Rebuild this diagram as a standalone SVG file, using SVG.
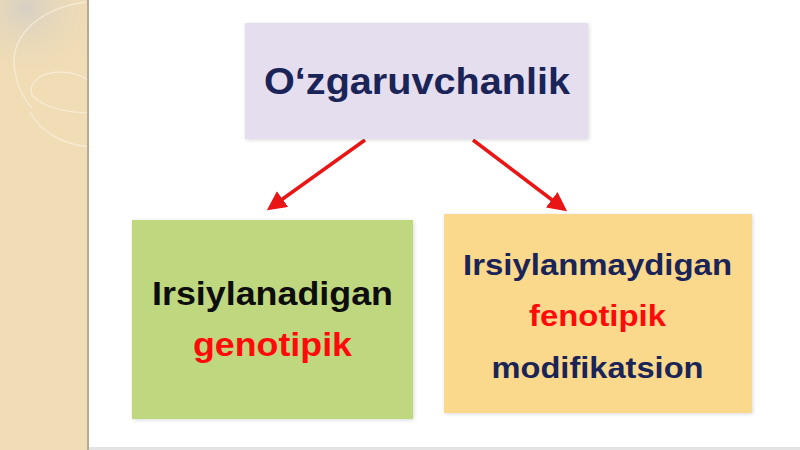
<svg xmlns="http://www.w3.org/2000/svg" width="800" height="450" viewBox="0 0 800 450">
  <defs>
    <style>
      .t { font-family: "Liberation Sans", Arial, sans-serif; font-weight: bold; text-anchor: middle; }
      .navy { fill: #1b2457; }
      .red { fill: #ff0a0a; }
      .blk { fill: #0d0d0d; }
      .conn { stroke: #ea1515; stroke-width: 3.5; fill: none; marker-end: url(#ah); }
      .deco { fill: none; stroke: #fbf3e2; stroke-width: 1.5; opacity: 0.6; }
    </style>
    <marker id="ah" viewBox="0 0 10 10" refX="8" refY="5" markerWidth="5.5" markerHeight="5.5" orient="auto" markerUnits="strokeWidth">
      <path d="M0,0 L10,5 L0,10 Z" fill="#ea1515"/>
    </marker>
    <radialGradient id="tl" cx="0.3" cy="0.1" r="0.9">
      <stop offset="0" stop-color="#d6d0c4"/>
      <stop offset="1" stop-color="#f0dcb6" stop-opacity="0"/>
    </radialGradient>
    <filter id="sh" x="-5%" y="-5%" width="110%" height="110%">
      <feGaussianBlur in="SourceAlpha" stdDeviation="2"/>
      <feOffset dx="1" dy="1"/>
      <feComponentTransfer><feFuncA type="linear" slope="0.15"/></feComponentTransfer>
      <feMerge><feMergeNode/><feMergeNode in="SourceGraphic"/></feMerge>
    </filter>
  </defs>

  <rect x="0" y="0" width="800" height="450" fill="#ffffff"/>
  <g id="sidebar">
    <rect x="0" y="0" width="88" height="450" fill="#f0dcb5"/>
    <rect x="0" y="0" width="88" height="80" fill="url(#tl)"/>
    <path class="deco" d="M86,2 C40,8 12,35 14,65 C16,85 25,100 32,108"/>
    <path class="deco" d="M88,113 C60,112 40,105 32,95 C28,85 38,72 60,72 C72,72 82,76 88,80"/>
    <path class="deco" d="M30,112 C40,130 60,145 92,147"/>
    <rect x="87" y="0" width="2" height="450" fill="#b5ab95"/>
  </g>
  <rect x="89" y="447" width="711" height="3" fill="#e4e4e4"/>

  <g id="connectors">
    <line class="conn" x1="365" y1="140" x2="270" y2="208"/>
    <line class="conn" x1="473" y1="140" x2="564" y2="209"/>
  </g>

  <g id="node-top">
    <rect x="245" y="23" width="343" height="116" fill="#e5deef" filter="url(#sh)"/>
    <text class="t navy" x="417" y="94" font-size="37" textLength="306" lengthAdjust="spacingAndGlyphs">O‘zgaruvchanlik</text>
  </g>

  <g id="node-left">
    <rect x="132" y="220" width="281" height="199" fill="#bfd77f" filter="url(#sh)"/>
    <text class="t blk" x="272.5" y="305" font-size="34" textLength="241" lengthAdjust="spacingAndGlyphs">Irsiylanadigan</text>
    <text class="t red" x="272.5" y="356" font-size="34" textLength="159" lengthAdjust="spacingAndGlyphs">genotipik</text>
  </g>

  <g id="node-right">
    <rect x="444" y="214" width="308" height="199" fill="#fad98c" filter="url(#sh)"/>
    <text class="t navy" x="597.5" y="275" font-size="30" textLength="269" lengthAdjust="spacingAndGlyphs">Irsiylanmaydigan</text>
    <text class="t red" x="597.5" y="326" font-size="30" textLength="137" lengthAdjust="spacingAndGlyphs">fenotipik</text>
    <text class="t navy" x="597.5" y="378" font-size="30" textLength="212" lengthAdjust="spacingAndGlyphs">modifikatsion</text>
  </g>
</svg>
